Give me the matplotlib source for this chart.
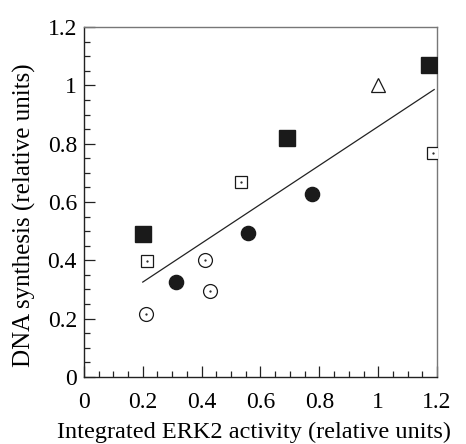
import numpy as np
import matplotlib.pyplot as plt
from matplotlib.ticker import MultipleLocator, FormatStrFormatter

plt.rcParams['font.family'] = ['Liberation Serif', 'DejaVu Serif']

# data
filled_sq_x = [0.20, 0.69, 1.173]
filled_sq_y = [0.49, 0.82, 1.07]
open_sq_x = [0.214, 0.534, 1.187]
open_sq_y = [0.397, 0.668, 0.767]
tri_x = [1.0]
tri_y = [1.0]
filled_c_x = [0.313, 0.558, 0.776]
filled_c_y = [0.325, 0.493, 0.627]
open_c_x = [0.211, 0.41, 0.43]
open_c_y = [0.216, 0.40, 0.295]

fit_slope = 0.667
fit_intercept = 0.192
fit_range = [0.2, 1.19]

fig = plt.figure(figsize=(4.66, 4.44), dpi=100)
ax = fig.add_axes([0.180, 0.151, 0.758, 0.788])

fx = np.array(fit_range)
ax.plot(fx, fit_slope * fx + fit_intercept, color='#222222', lw=0.9, zorder=2)

ax.plot(filled_sq_x, filled_sq_y, 's', ms=11.5, color='#1a1a1a', mec='#1a1a1a', zorder=3)
ax.plot(open_sq_x, open_sq_y, 's', ms=9.2, mfc='white', mec='#1a1a1a', mew=0.9, zorder=3)
ax.plot(open_sq_x, open_sq_y, '.', ms=1.2, color='#1a1a1a', zorder=4)
ax.plot(tri_x, tri_y, '^', ms=10, mfc='white', mec='#1a1a1a', mew=0.9, zorder=3)
ax.plot(filled_c_x, filled_c_y, 'o', ms=10.2, color='#1a1a1a', zorder=3)
ax.plot(open_c_x, open_c_y, 'o', ms=10, mfc='white', mec='#1a1a1a', mew=0.9, zorder=3)
ax.plot(open_c_x, open_c_y, '.', ms=1.2, color='#1a1a1a', zorder=4)

ax.set_xlim(0, 1.2)
ax.set_ylim(0, 1.2)
ax.xaxis.set_major_locator(MultipleLocator(0.2))
ax.xaxis.set_minor_locator(MultipleLocator(0.05))
ax.yaxis.set_major_locator(MultipleLocator(0.2))
ax.yaxis.set_minor_locator(MultipleLocator(0.05))
ax.xaxis.set_major_formatter(FormatStrFormatter('%g'))
ax.yaxis.set_major_formatter(FormatStrFormatter('%g'))

ax.tick_params(which='both', direction='in', top=False, right=False, color='#222222', width=0.9)
ax.tick_params(which='major', length=8)
ax.tick_params(which='minor', length=4)
ax.tick_params(axis='x', which='major', pad=10.5, labelsize=17)
ax.tick_params(axis='y', which='major', pad=5, labelsize=17)

for s in ['left', 'bottom']:
    ax.spines[s].set_color('#222222')
    ax.spines[s].set_linewidth(1.0)
for s in ['top', 'right']:
    ax.spines[s].set_color('#777777')
    ax.spines[s].set_linewidth(1.0)

ax.set_xlabel('Integrated ERK2 activity (relative units)', fontsize=17.5)
ax.set_ylabel('DNA synthesis (relative units)', fontsize=18)
ax.xaxis.set_label_coords(0.482, -0.127)
ax.yaxis.set_label_coords(-0.135, 0.463)

fig.savefig('out.png', dpi=100)
